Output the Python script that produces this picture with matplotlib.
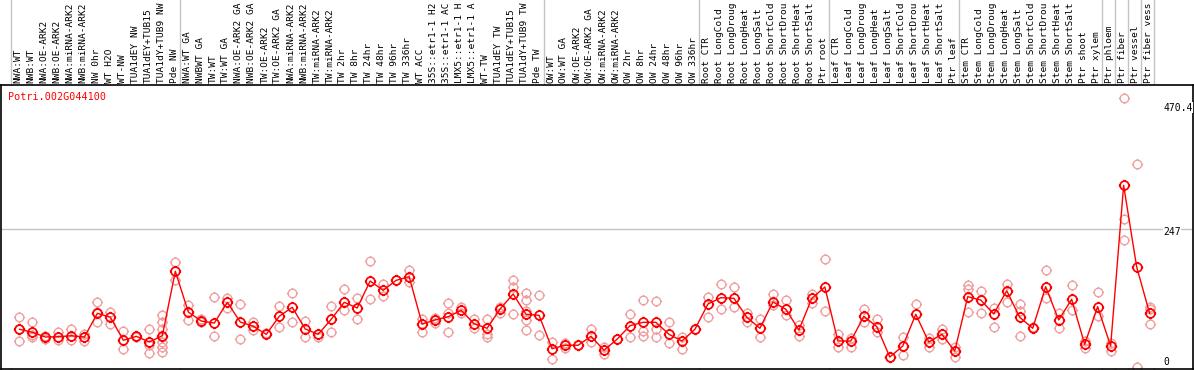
import matplotlib
matplotlib.use("Agg")
import matplotlib.pyplot as plt
import matplotlib.transforms as mtransforms
from matplotlib.lines import Line2D
from matplotlib.path import Path
import numpy as np

gene = "Potri.002G044100"

# sample names, cut to 14 characters as in the source chart
labels = [
    "NWA:WT", "NWB:WT", "NWA:OE-ARK2", "NWB:OE-ARK2", "NWA:miRNA-ARK2", "NWB:miRNA-ARK2",
    "NW 0hr", "WT H2O", "WT-NW", "TUA1dEY NW", "TUA1dEY+TUB15", "TUA1dY+TUB9 NW", "Pde NW",
    "NWA:WT GA", "NWBWT GA", "TW:WT", "TW:WT GA", "NWA:OE-ARK2 GA", "NWB:OE-ARK2 GA",
    "TW:OE-ARK2", "TW:OE-ARK2 GA", "NWA:miRNA-ARK2", "NWB:miRNA-ARK2", "TW:miRNA-ARK2",
    "TW:miRNA-ARK2", "TW 2hr", "TW 8hr", "TW 24hr", "TW 48hr", "TW 96hr", "TW 336hr",
    "WT ACC", "35S::etr1-1 H2", "35S::etr1-1 AC", "LMX5::etr1-1 H", "LMX5::etr1-1 A",
    "WT-TW", "TUA1dEY TW", "TUA1dEY+TUB15", "TUA1dY+TUB9 TW", "Pde TW",
    "OW:WT", "OW:WT GA", "OW:OE-ARK2", "OW:OE-ARK2 GA", "OW:miRNA-ARK2", "OW:miRNA-ARK2",
    "OW 2hr", "OW 8hr", "OW 24hr", "OW 48hr", "OW 96hr", "OW 336hr",
    "Root CTR", "Root LongCold", "Root LongDroug", "Root LongHeat", "Root LongSalt",
    "Root ShortCold", "Root ShortDrou", "Root ShortHeat", "Root ShortSalt", "Ptr root",
    "Leaf CTR", "Leaf LongCold", "Leaf LongDroug", "Leaf LongHeat", "Leaf LongSalt",
    "Leaf ShortCold", "Leaf ShortDrou", "Leaf ShortHeat", "Leaf ShortSalt", "Ptr leaf",
    "Stem CTR", "Stem LongCold", "Stem LongDroug", "Stem LongHeat", "Stem LongSalt",
    "Stem ShortCold", "Stem ShortDrou", "Stem ShortHeat", "Stem ShortSalt", "Ptr shoot",
    "Ptr xylem", "Ptr phloem", "Ptr fiber", "Ptr vessel", "Ptr fiber vess",
]

group_sizes = [13, 28, 12, 10, 10, 11, 1, 1, 1, 1]

means = [
    75.6, 70.4, 62.4, 62.9, 64.6, 62.4, 102.9, 96.1, 56.8, 63.6, 53.8, 64.6, 174.7,
    105.1, 89.7, 86.3, 121.7, 88.0, 80.7, 67.0, 97.8, 113.2, 76.1, 67.0, 92.6, 121.7,
    112.0, 158.1, 142.2, 159.3, 165.5, 84.6, 91.5, 97.1, 108.0, 85.1, 77.3, 110.3,
    135.9, 101.2, 99.5,
    42.4, 48.2, 48.2, 63.6, 39.7, 58.5, 81.7, 87.5, 87.5, 67.0, 55.6, 75.6,
    118.8, 129.6, 128.5, 96.1, 77.3, 122.2, 109.7, 74.4, 128.5, 147.9,
    55.6, 55.6, 97.8, 80.0, 28.2, 47.0, 101.2, 53.8, 67.0, 38.5,
    131.3, 125.6, 101.7, 141.5, 96.1, 77.3, 148.4, 91.5, 126.8, 49.9, 114.2,
    47.0, 321.7, 182.6, 102.9,
]

reps = [
    [96.1, 56.1, 75.6], [87.5, 61.9, 66.0], [64.1, 58.5], [71.5, 57.3], [76.1, 57.3],
    [67.5, 56.1], [122.2, 105.6, 88.5], [105.6, 85.1], [72.6, 41.4], [64.6, 61.9],
    [76.1, 48.2, 34.5], [100.0, 88.5, 75.6, 62.9, 54.4, 45.8, 36.8], [190.1, 159.8],
    [117.1, 91.5], [92.6, 88.5], [130.3, 64.1], [129.6, 111.5], [118.8, 59.0],
    [88.5, 74.4], [68.7], [115.4, 79.0], [137.6, 87.5], [90.3, 61.9], [62.9],
    [115.4, 70.9], [143.9, 108.5], [128.5, 92.6], [191.8, 126.8], [152.5, 132.0],
    [159.8], [176.9, 156.9], [93.2, 70.4], [94.4, 86.8], [120.5, 102.9, 70.9],
    [114.2, 103.9], [93.2, 77.8], [92.6, 67.0, 62.9], [114.2, 103.9],
    [159.8, 148.4, 101.7], [137.1, 125.6, 106.8, 91.5, 74.4], [134.2, 65.3],
    [54.4, 24.3], [51.6, 44.1], [48.7], [76.6, 53.8], [44.8, 33.8], [58.5],
    [101.7, 62.9], [125.1, 73.2, 64.1], [123.9, 75.6, 62.9], [88.0, 51.6],
    [62.9, 41.9], [75.6],
    [131.3, 97.1], [153.0, 109.7], [147.4, 113.2], [102.9, 87.5], [93.7, 62.9],
    [135.9, 117.1], [125.6, 100.0], [82.9, 64.1], [135.4, 121.0], [195.2, 106.3],
    [67.5, 45.8], [60.2, 45.8], [109.7, 88.0], [92.6, 71.5], [28.2], [62.9, 31.6],
    [118.8], [60.2, 45.8], [75.6, 58.5], [45.8, 27.7],
    [151.3, 143.9, 104.6], [141.0, 102.9], [112.5, 79.0], [153.0, 121.7],
    [118.8, 106.8, 64.1], [80.0], [176.4, 129.6], [102.9, 77.3], [150.8, 108.5],
    [55.6, 43.1], [138.8, 98.3],
    [51.6, 39.0], [470.4, 263.6, 227.7], [357.6, 10.6], [114.2, 84.1, 110.0],
]

y_labels = ["470.4", "247", "0"]
threshold = 247

W, H = 1194, 370
fig = plt.figure(figsize=(W / 100, H / 100), dpi=100)
ax = fig.add_axes([1 / W, 1 / H, 1192 / W, 284 / H])

x = np.arange(len(means))
ax.set_xlim(-1.42, 90.34)
ax.set_ylim(7.7, 493.2)

# circle with four little stubs, like the bitmap markers
circ = Path.unit_circle()
stubs = Path([(0, 1), (0, 1.3), (0, -1), (0, -1.3), (1, 0), (1.3, 0), (-1, 0), (-1.3, 0)],
             [Path.MOVETO, Path.LINETO] * 4)
ring = Path.make_compound_path(circ, stubs)

mono = "DejaVu Sans Mono"

# vertical separators through the label band
sep = np.concatenate([[0], np.cumsum(group_sizes)]) - 0.65
tr_xfig = mtransforms.blended_transform_factory(ax.transData, fig.transFigure)
for s in sep:
    fig.add_artist(Line2D([s, s], [0, 1], transform=tr_xfig, color="#c4c4c4", lw=1, zorder=0))

ax.axhline(threshold, color="#c4c4c4", lw=1, zorder=0)

# replicates
for i, r in enumerate(reps):
    ax.plot([i] * len(r), r, ls="none", marker=ring, ms=8, mew=1,
            mfc="none", mec="#f0a0a0", zorder=2)

ax.plot(x, means, color="#ff0000", lw=1, zorder=3)
ax.plot(x, means, ls="none", marker=ring, ms=8.2, mew=1.25, mfc="none", mec="#ff0000", zorder=4)

for i, lab in enumerate(labels):
    fig.text(i - 0.1, (H - 83) / H, lab, transform=tr_xfig, rotation=90,
             ha="center", va="bottom", fontsize=6.8, family=mono, color="black")

fig.text(8 / W, (H - 97) / H, gene, color="#ff0000", fontsize=7.3, family=mono,
         ha="left", va="center")

ylab_pos = [454.4, 242.4, 20.2]
tr_yl = mtransforms.blended_transform_factory(ax.transAxes, ax.transData)
for lab, yp in zip(y_labels, ylab_pos):
    ax.text(1162 / 1192, yp, lab, transform=tr_yl, ha="left", va="center",
            fontsize=7, family=mono, color="black",
            bbox=dict(facecolor="white", edgecolor="none", pad=0.3))

for sp in ax.spines.values():
    sp.set_color("black")
    sp.set_linewidth(1.2)
ax.set_xticks([])
ax.set_yticks([])

fig.savefig("out.png", dpi=100)
